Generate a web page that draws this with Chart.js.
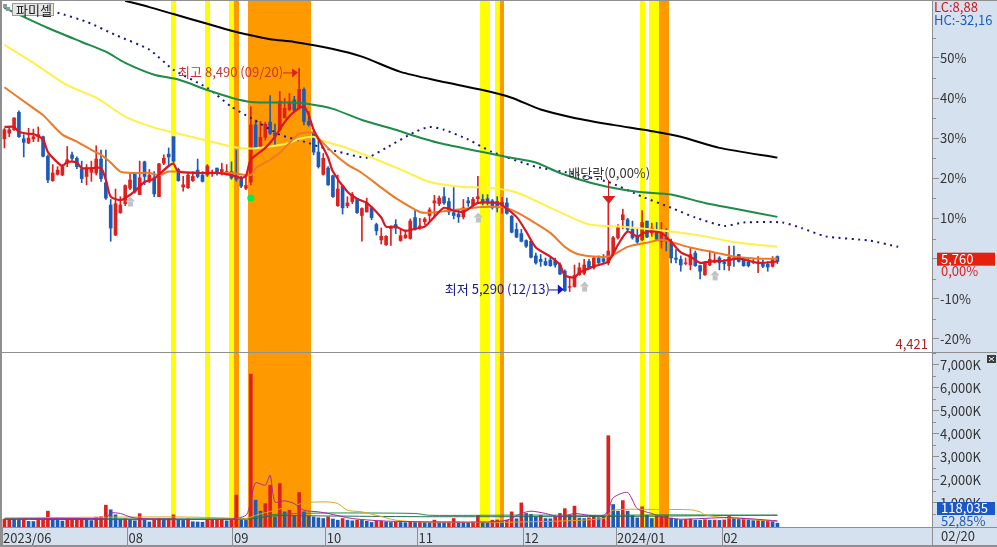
<!DOCTYPE html>
<html>
<head>
<meta charset="utf-8">
<title>파미셀</title>
<script src="https://cdn.jsdelivr.net/npm/chart.js@4/dist/chart.umd.min.js"></script>
<style>
  html, body { margin: 0; padding: 0; background: #fff; overflow: hidden; }
  canvas { display: block; }
</style>
</head>
<body>
<canvas id="myChart" width="997" height="547"></canvas>
<script>
// daily candles, 2023/06 - 2024/02
const opens = [7480,7560,7610,7860,7480,7420,7480,7510,7510,7230,6880,6970,6960,7130,7250,7200,7050,6940,7000,6990,7190,6850,6530,6100,6420,6550,6770,6990,6680,7150,6870,6920,6650,7130,7260,7510,7040,6790,6780,6880,7030,6960,6960,6980,7060,6990,6990,7010,6940,6920,6770,6860,7680,7370,7500,7720,7560,7610,7780,7900,8040,7920,8190,7730,7560,7290,6970,7060,6950,6520,6800,6520,6580,6610,6380,6430,6490,6250,6030,5960,6190,6250,6020,6060,6050,6350,6200,6290,6380,6560,6550,6650,6580,6420,6400,6360,6590,6530,6620,6610,6620,6590,6580,6530,6560,6370,6180,6120,6020,6010,5800,5750,5720,5740,5730,5670,5580,5350,5360,5530,5550,5720,5630,5770,5760,5700,5820,6060,6320,6320,6180,6080,6030,6300,6130,6180,6010,6060,6010,5770,5750,5690,5670,5840,5660,5530,5670,5710,5770,5710,5660,5770,5820,5750,5710,5710,5700,5700,5680,5650,5790];
const closes = [7610,7610,7780,7510,7430,7490,7510,7540,7230,6890,6990,7030,7080,7180,7200,7080,6910,7060,7060,7190,6910,6630,6200,6550,6530,6810,6890,6730,6920,6940,6960,6690,7120,7200,7220,7160,6880,6820,6960,6940,6940,6870,7090,7000,6990,7040,7010,6920,6900,6800,6810,7680,7350,7500,7690,7560,7520,8020,7920,8010,7890,8190,7730,7680,7290,7080,7200,6820,6650,6760,6490,6560,6680,6420,6480,6560,6350,6160,6080,6080,6220,6200,6090,6100,6300,6180,6230,6330,6460,6590,6630,6560,6430,6380,6360,6490,6560,6610,6650,6560,6580,6490,6490,6570,6410,6140,6070,6010,5940,5780,5700,5720,5670,5660,5670,5540,5300,5360,5520,5630,5670,5630,5770,5700,5720,5870,6060,6220,6390,6180,6060,6000,6280,6070,6200,6040,6130,6010,5770,5750,5670,5700,5820,5660,5580,5700,5750,5740,5700,5690,5780,5750,5720,5660,5660,5720,5710,5650,5640,5750,5720];
const highs = [7630,7660,7780,7880,7540,7630,7620,7650,7520,7250,7110,7080,7110,7370,7290,7220,7160,7110,7160,7380,7320,7320,6610,6760,6650,6820,6990,7000,7160,7160,7040,7010,7130,7250,7350,7510,7060,6940,6990,7010,7190,7010,7110,7030,7060,7130,7110,7150,7320,6940,6960,7940,7750,7730,7720,8100,7690,8160,8060,8130,8090,8490,8210,7870,7590,7470,7270,7080,6960,6960,6810,6650,6710,6620,6490,6630,6510,6270,6200,6090,6230,6320,6180,6170,6330,6460,6340,6350,6490,6670,6660,6780,6630,6780,6460,6610,6640,6640,6940,6680,6680,6610,6650,6640,6630,6380,6270,6180,6030,6020,5840,5820,5770,5780,5770,5700,5600,5480,5670,5700,5750,5750,5790,5800,5820,6560,6080,6250,6470,6340,6300,6200,6450,6300,6270,6280,6280,6190,6040,5890,5800,5770,5910,5870,5670,5720,5870,5840,5790,5750,5940,5940,5820,5770,5750,5750,5790,5740,5720,5790,5800];
const lows = [7350,7510,7600,7500,7220,7410,7440,7440,7220,6850,6870,6960,6950,7080,7170,7050,6850,6820,6870,6960,6870,6610,6010,6090,6410,6520,6750,6700,6680,6820,6850,6650,6650,7110,7080,7130,6870,6730,6770,6870,6920,6860,6940,6940,6960,6960,6960,6900,6870,6780,6750,6820,7340,7350,7460,7540,7390,7590,7780,7880,7880,7910,7680,7660,7250,7060,6960,6810,6640,6510,6400,6490,6550,6410,6010,6430,6320,6100,5970,5950,5950,6120,6010,6050,6040,6170,6180,6250,6300,6360,6520,6540,6390,6330,6280,6330,6510,6510,6560,6530,6530,6470,6430,6410,6400,6130,6060,6000,5920,5770,5680,5650,5660,5650,5640,5530,5290,5290,5350,5520,5530,5610,5610,5690,5700,5670,5800,6040,6190,6150,6040,5980,6020,6060,6080,6030,5910,5870,5700,5700,5580,5670,5600,5650,5470,5520,5660,5700,5600,5600,5590,5650,5710,5650,5640,5690,5560,5630,5580,5640,5690];
const volumes = [290,300,280,240,280,200,190,240,250,640,270,240,210,270,280,290,300,260,230,380,400,900,700,480,300,310,270,220,530,250,170,260,320,310,320,480,280,240,300,180,170,160,260,270,280,290,220,250,1340,250,240,6600,1120,640,970,1770,390,1840,610,680,460,1450,610,420,390,350,320,390,300,250,320,250,220,250,240,200,150,200,210,170,150,160,150,140,160,150,160,150,140,250,170,160,170,320,170,160,140,170,460,170,150,250,260,180,250,610,310,1000,540,500,390,460,320,310,380,540,750,460,860,340,320,350,460,360,420,3920,930,640,1100,640,460,350,830,460,320,420,430,440,340,300,260,280,300,250,240,270,240,250,240,260,410,330,310,320,250,230,240,220,230,200,118];

// moving average lines, read at a few bars each
const ma5Idx = [0,2,3,5,6,8,9,11,12,13,15,16,18,20,21,22,24,25,27,29,31,34,35,36,40,44,47,49,50,51,54,56,58,60,62,63,64,66,67,68,71,73,75,78,79,81,83,85,87,89,91,93,95,98,102,103,106,108,110,113,115,116,118,119,122,125,127,129,131,133,136,138,140,142,144,146,149,152,156,160];
const ma5 = [7650,7650,7580,7550,7550,7470,7290,7140,7090,7150,7140,7060,7060,7060,6890,6650,6600,6630,6730,6860,6910,7090,7120,7010,6990,6990,6960,6920,6950,7180,7350,7510,7720,7870,7940,7820,7610,7350,7210,7010,6720,6620,6560,6350,6220,6220,6160,6190,6220,6360,6490,6450,6430,6560,6560,6530,6360,6150,5920,5790,5670,5520,5490,5560,5650,5720,5960,6150,6080,6150,6130,6000,5850,5790,5700,5720,5730,5760,5700,5720];
const ma20Idx = [0,6,8,12,15,18,20,22,24,27,30,32,34,36,41,47,51,52,55,57,59,61,64,65,68,71,74,78,81,86,88,93,96,99,103,105,108,113,116,119,125,129,133,136,138,142,147,151,156,160];
const ma20 = [8220,7920,7820,7540,7440,7320,7250,7140,7010,6990,6990,6960,7010,7010,6990,6990,6960,7060,7180,7280,7420,7550,7570,7490,7280,7110,6990,6780,6630,6430,6420,6460,6480,6500,6500,6460,6350,6130,5930,5820,5790,5930,5990,6030,6000,5920,5850,5790,5760,5760];
const ma60Idx = [0,6,13,19,25,31,35,41,47,51,55,59,61,64,65,70,76,83,88,95,100,106,114,121,128,138,145,151,160];
const ma60 = [8830,8570,8250,8070,7800,7640,7570,7470,7370,7340,7370,7420,7480,7510,7470,7370,7210,7010,6860,6790,6780,6710,6460,6250,6220,6150,6080,6000,5930];
const ma120Idx = [0,4,9,16,21,25,31,36,42,47,51,59,63,68,74,81,84,90,99,104,110,115,123,131,138,145,151,160];
const ma120 = [9360,9230,9070,8870,8730,8570,8400,8330,8180,8070,8010,8000,7980,7910,7750,7610,7540,7420,7290,7220,7140,6990,6820,6720,6680,6560,6480,6360];
const ma240Idx = [25,30,35,42,47,50,55,60,68,74,82,90,99,105,111,118,126,134,140,148,160];
const ma240 = [9460,9370,9270,9130,9030,8980,8910,8870,8770,8660,8440,8310,8180,8070,7900,7780,7680,7590,7510,7350,7210];
// dotted line runs past the last candle
const dotIdx = [11,17,23,30,35,42,47,51,57,63,65,70,75,79,85,88,91,96,101,110,117,125,132,138,143,149,153,161,165,170,179,185];
const dotLine = [9290,9160,8970,8760,8470,8210,7940,7780,7540,7420,7370,7280,7210,7350,7580,7650,7610,7470,7290,7080,6990,6860,6650,6490,6350,6230,6280,6280,6200,6080,6020,5930];

// volume average lines (K shares)
const volMa5Idx = [0,10,20,21,22,24,26,28,46,50,51,52,54,55,56,58,60,62,65,67,72,80,100,104,107,109,112,115,118,121,124,125,126,129,131,134,136,140,150,160];
const volMa5 = [290,320,320,320,560,540,390,320,290,460,1120,1870,1770,2200,1040,1090,970,680,610,540,320,200,170,250,540,640,540,390,540,460,460,680,1220,1450,750,540,390,290,360,220];
const volMa20Idx = [0,35,45,50,52,56,60,63,67,69,71,74,77,81,86,95,107,124,126,136,142,144,145,149,160];
const volMa20 = [350,390,350,320,460,680,900,1020,1040,970,680,610,460,250,170,150,170,320,680,710,700,610,480,360,190];
const volMa60Idx = [0,50,56,67,85,88,107,125,136,160];
const volMa60 = [320,320,500,560,540,460,470,460,480,460];
const volMa120Idx = [0,50,56,67,85,107,125,160];
const volMa120 = [280,290,440,430,400,400,410,470];

// highlighted days, drawn as full height stripes
const yellowDays = [35,42,47,99,100,102,132,134,135];
const orangeDays = [48,51,52,53,54,55,56,57,58,59,60,61,62,63,103,136,137];

// axis labels
const pctTicks = [50,40,30,20,10,0,-10,-20];
const volTicks = [7000,6000,5000,4000,3000,2000,1000];
const monthTicks = [-0.5,25.5,47.3,66.5,85.5,107.4,126.6,148.6];
const monthLabels = ['2023/06','08','09','10','11','12','2024/01','02'];

const lastPrice = 5760;
const lowPrice = 4421;
const lastSlot = 192;

// grey up arrows and the green signal: [bar, price]
const greyArrows = [[26,6580],[98,6350],[120,5360],[147,5520]];
const greenSignal = [51,6630];

const RED = '#e0201e';
const BLUE = '#1c5cb8';
const GRAY = '#8f8f8f';
const PANEL = '#d6e1ef';
const FONT = '"Liberation Sans Narrow","Noto Sans CJK KR",sans-serif';

function points(idx, vals) {
    return idx.map((x, k) => ({x: x, y: vals[k]}));
}

function maLine(idx, vals, color, width, axis) {
    return {
        type: 'line',
        data: points(idx, vals),
        borderColor: color,
        borderWidth: width,
        pointRadius: 0,
        tension: 0.25,
        yAxisID: axis,
        order: 1
    };
}

// labels at the pane edges must not push the plot area in
function fitAxis(axis, size) {
    if (axis.isHorizontal()) axis.height = size;
    else axis.width = size;
    axis.paddingTop = 0;
    axis.paddingBottom = 0;
    axis.paddingLeft = 0;
    axis.paddingRight = 0;
}

let wicks = highs.map((h, i) => ({x: i, y: [lows[i], h]}));
let bodies = opens.map((o, i) => ({x: i, y: [o, closes[i]]}));
let candleColor = ctx => closes[ctx.dataIndex] >= opens[ctx.dataIndex] ? RED : BLUE;
let volumeColor = ctx => {
    let i = ctx.dataIndex;
    return i == 0 || volumes[i] >= volumes[i - 1] ? RED : BLUE;
};

// stripes go under everything, the rest of the furniture on top
const decorations = {
    id: 'decorations',
    beforeDraw(chart) {
        let c = chart.ctx;
        c.fillStyle = '#fff';
        c.fillRect(0, 0, 997, 547);
        c.fillStyle = PANEL;
        c.fillRect(932, 0, 65, 547);
        c.fillRect(0, 528, 997, 19);
    },
    beforeDatasetsDraw(chart) {
        let c = chart.ctx, x = chart.scales.x, area = chart.chartArea;
        let stripe = (days, color) => {
            c.fillStyle = color;
            days.forEach(d => {
                let l = Math.round(x.getPixelForValue(d - 0.5));
                let r = Math.round(x.getPixelForValue(d + 0.5));
                c.fillRect(l, area.top, r - l, area.bottom - area.top);
            });
        };
        stripe(yellowDays, '#ffff00');
        stripe(orangeDays, '#ff9900');
    },
    afterDraw(chart) {
        let c = chart.ctx, x = chart.scales.x, y = chart.scales.y, v = chart.scales.yVol;

        // frame lines
        c.fillStyle = GRAY;
        c.fillRect(0, 0, 2, 547);
        c.fillRect(0, 0, 997, 1);
        c.fillRect(0, 352, 997, 1);
        c.fillRect(0, 527, 997, 1);
        c.fillRect(0, 545, 997, 2);
        c.fillRect(932, 0, 1, 547);

        // minor axis ticks
        for (let p = -20; p <= 60; p += 10) {
            let py = Math.round(y.getPixelForValue(lastPrice * (1 + (p + 5) / 100)));
            if (py > 2 && py < 350) c.fillRect(933, py, 3, 1);
        }
        for (let k = 500; k <= 7500; k += 1000) {
            c.fillRect(933, Math.round(v.getPixelForValue(k)), 3, 1);
        }

        c.textBaseline = 'middle';
        c.font = '13px ' + FONT;

        function text(s, px, py, color, align) {
            c.fillStyle = color;
            c.textAlign = align || 'left';
            c.fillText(s, px, py);
        }
        function tri(x1, y1, x2, y2, x3, y3, color) {
            c.fillStyle = color;
            c.beginPath();
            c.moveTo(x1, y1);
            c.lineTo(x2, y2);
            c.lineTo(x3, y3);
            c.fill();
        }

        // stock name tab
        c.fillStyle = '#e6e6e6';
        c.fillRect(12, 3, 42, 13);
        c.strokeStyle = '#9a9a9a';
        c.strokeRect(12.5, 3.5, 41, 12);
        text('파미셀', 16, 10, '#222');
        c.fillStyle = '#8a9aa0';
        c.fillRect(3, 4, 4, 4);
        c.fillRect(6, 7, 4, 4);

        // highest price note
        let hx = x.getPixelForValue(61), hy = y.getPixelForValue(8490);
        text('최고 8,490 (09/20)', hx - 121, hy + 4, '#cc3333');
        c.fillStyle = RED;
        c.fillRect(hx - 16, hy + 4, 12, 1);
        tri(hx - 1, hy + 4, hx - 7, hy, hx - 7, hy + 9, RED);

        // lowest price note
        let lx = x.getPixelForValue(116), ly = y.getPixelForValue(5290);
        text('최저 5,290 (12/13)', lx - 120, ly - 2, '#1a1a90');
        c.fillStyle = '#1414c8';
        c.fillRect(lx - 16, ly - 2, 12, 1);
        tri(lx - 1, ly - 2, lx - 7, ly - 7, lx - 7, ly + 3, '#1414c8');

        // ex-dividend note
        let dx = x.getPixelForValue(125);
        text('배당락(0,00%)', dx - 40, 173, '#333');
        c.fillStyle = '#c82020';
        c.fillRect(Math.round(dx), 180, 1, 18);
        tri(dx - 6, 196, dx + 7, 196, dx + 0.5, 204, RED);

        // grey arrows under the candles
        greyArrows.forEach(a => {
            let ax = x.getPixelForValue(a[0]), ay = y.getPixelForValue(a[1]);
            c.fillStyle = '#c2c2c2';
            c.fillRect(ax - 2, ay, 5, 5);
            tri(ax - 4.5, ay, ax + 5, ay, ax + 0.5, ay - 5, '#c2c2c2');
        });

        // green signal
        let gx = x.getPixelForValue(greenSignal[0]), gy = y.getPixelForValue(greenSignal[1]);
        c.fillStyle = '#00f040';
        c.beginPath();
        c.arc(gx, gy, 3.5, 0, Math.PI * 2);
        c.fill();

        // right side labels
        text('LC:8,88', 934, 7, '#d01818');
        text('HC:-32,16', 934, 20, '#1c5cb8');
        text(lowPrice.toLocaleString('en-US'), 928, 344, '#b02020', 'right');

        let py = y.getPixelForValue(lastPrice);
        c.fillStyle = '#e6200e';
        c.fillRect(937, py - 6, 58, 13);
        text('5,760', 941, py, '#fff');
        text('0,00%', 941, py + 12, '#e02020');

        c.fillStyle = '#1858c8';
        c.fillRect(937, 502, 58, 13);
        text('118,035', 941, 508, '#fff');
        text('52,85%', 941, 521, '#1c5cb8');
        text('02/20', 941, 536, '#333');

        // pane close button
        c.fillStyle = '#3c3c3c';
        c.fillRect(987, 355, 9, 8);
        c.strokeStyle = '#fff';
        c.beginPath();
        c.moveTo(989, 357);
        c.lineTo(994, 361);
        c.moveTo(994, 357);
        c.lineTo(989, 361);
        c.stroke();
    }
};

let ctx = document.getElementById('myChart');

let myChart = new Chart(ctx, {
    data: {
        datasets: [
            maLine(ma5Idx, ma5, '#e0141e', 2.2, 'y'),
            maLine(ma20Idx, ma20, '#ee7a28', 2, 'y'),
            maLine(ma60Idx, ma60, '#fff04a', 2, 'y'),
            maLine(ma120Idx, ma120, '#1d8c48', 2, 'y'),
            maLine(ma240Idx, ma240, '#000000', 2, 'y'),
            Object.assign(maLine(dotIdx, dotLine, '#15158c', 2, 'y'), {borderDash: [2, 4.5], tension: 0.2}),
            {
                type: 'bar',
                data: bodies,
                backgroundColor: candleColor,
                barThickness: 3,
                grouped: false,
                yAxisID: 'y',
                order: 5
            },
            {
                type: 'bar',
                data: wicks,
                backgroundColor: candleColor,
                barThickness: 1,
                grouped: false,
                yAxisID: 'y',
                order: 6
            },
            maLine(volMa5Idx, volMa5, '#a528a5', 1, 'yVol'),
            maLine(volMa20Idx, volMa20, '#d8a818', 1, 'yVol'),
            maLine(volMa60Idx, volMa60, '#1d8c48', 1, 'yVol'),
            maLine(volMa120Idx, volMa120, '#2a6a5a', 1, 'yVol'),
            {
                type: 'bar',
                data: volumes.map((k, i) => ({x: i, y: k})),
                backgroundColor: volumeColor,
                barThickness: 3,
                grouped: false,
                base: -50,
                yAxisID: 'yVol',
                order: 5
            }
        ]
    },
    options: {
        responsive: false,
        animation: false,
        events: [],
        layout: {autoPadding: false, padding: {left: 2, right: 0, top: 0, bottom: 0}},
        plugins: {legend: {display: false}, tooltip: {enabled: false}},
        scales: {
            x: {
                type: 'linear',
                offset: false,
                min: -0.5,
                max: lastSlot,
                afterBuildTicks: axis => {
                    axis.ticks = monthTicks.map(v => ({value: v}));
                },
                afterFit: axis => fitAxis(axis, 19),
                grid: {offset: false, drawOnChartArea: false, tickLength: 18, tickColor: GRAY},
                border: {display: false},
                ticks: {
                    autoSkip: false,
                    maxRotation: 0,
                    align: 'start',
                    labelOffset: 1,
                    padding: -16,
                    color: '#333',
                    font: {family: FONT, size: 13},
                    callback: (v, i) => monthLabels[i]
                }
            },
            y: {
                type: 'linear',
                position: 'right',
                stack: 'panes',
                stackWeight: 352,
                min: lowPrice,
                max: 9472,
                afterBuildTicks: axis => {
                    axis.ticks = pctTicks.map(p => ({value: lastPrice * (1 + p / 100)}));
                },
                afterFit: axis => fitAxis(axis, 65),
                grid: {drawOnChartArea: false, tickLength: 7, tickColor: GRAY},
                border: {display: false},
                ticks: {
                    autoSkip: false,
                    padding: 1,
                    color: '#333',
                    font: {family: FONT, size: 13},
                    callback: v => Math.round((v / lastPrice - 1) * 100) + '%'
                }
            },
            yVol: {
                type: 'linear',
                position: 'right',
                stack: 'panes',
                stackWeight: 176,
                min: -92,
                max: 7560,
                afterBuildTicks: axis => {
                    axis.ticks = volTicks.map(k => ({value: k}));
                },
                afterFit: axis => fitAxis(axis, 65),
                grid: {drawOnChartArea: false, tickLength: 7, tickColor: GRAY},
                border: {display: false},
                ticks: {
                    autoSkip: false,
                    padding: 1,
                    color: '#333',
                    font: {family: FONT, size: 13},
                    callback: k => k.toLocaleString('en-US') + 'K'
                }
            }
        }
    },
    plugins: [decorations]
});
</script>
</body>
</html>
